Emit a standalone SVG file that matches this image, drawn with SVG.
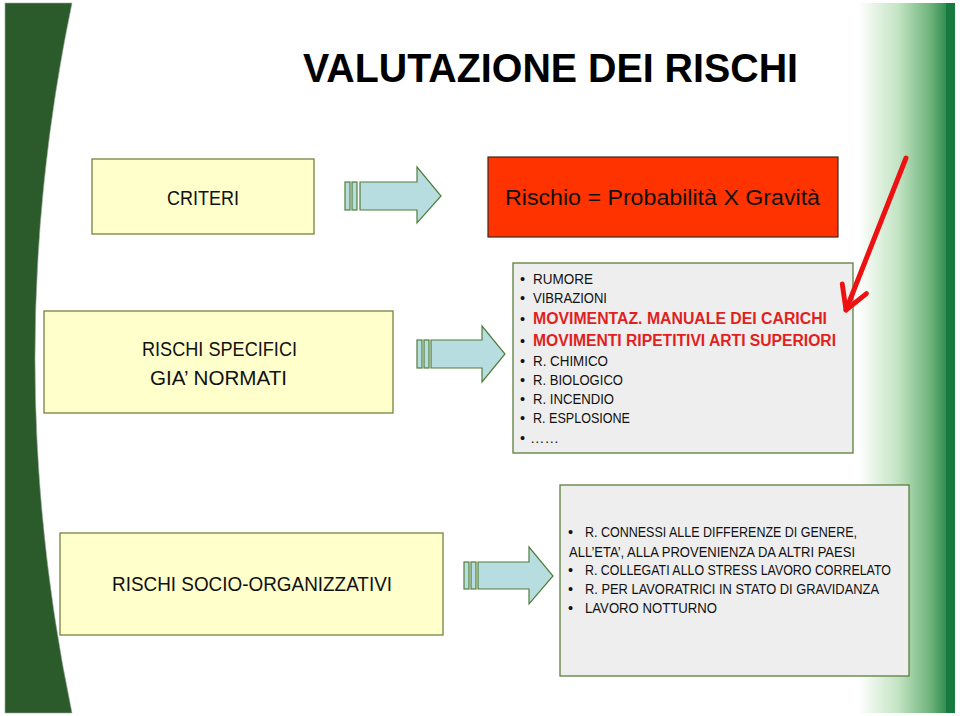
<svg xmlns="http://www.w3.org/2000/svg" width="960" height="716" viewBox="0 0 960 716">
<style>
text{font-family:"Liberation Sans",Arial,sans-serif;fill:#111;}
.yb{fill:#ffffcc;stroke:#76833f;stroke-width:1.3;}
.gb{fill:#eeeeee;stroke:#5b7f3b;stroke-width:1.3;}
.arr{fill:#b8dde0;stroke:#4f7f3a;stroke-width:1.2;}
.lbl{font-size:19.5px;}
.li{font-size:14.5px;}
.red{font-size:16px;font-weight:bold;fill:#e11f1f;}
</style>
<defs>
<linearGradient id="rg" gradientUnits="userSpaceOnUse" x1="858" y1="0" x2="948" y2="0">
<stop offset="0" stop-color="#ffffff"/>
<stop offset="0.45" stop-color="#c3e3c3"/>
<stop offset="0.8" stop-color="#6fb47c"/>
<stop offset="1" stop-color="#2a8a4e"/>
</linearGradient>
<marker id="ah" viewBox="0 0 10 10" refX="8" refY="5" markerWidth="6.5" markerHeight="6.5" orient="auto" markerUnits="strokeWidth">
<path d="M1,1 L8,5 L1,9" fill="none" stroke="#ee1111" stroke-width="1.5" stroke-linecap="round" stroke-linejoin="round"/>
</marker>
</defs>
<rect width="960" height="716" fill="#ffffff"/>
<path d="M5,3 L72,3 Q-2,358 72,713 L5,713 Z" fill="#2b5a2b" stroke="#9aa89a" stroke-width="0.6"/>
<rect x="858" y="3" width="90" height="710" fill="url(#rg)"/>
<rect x="946" y="3" width="9" height="710" fill="#187a3e"/>

<text x="303" y="82" font-size="41" font-weight="bold" textLength="495" lengthAdjust="spacingAndGlyphs" style="fill:#000">VALUTAZIONE DEI RISCHI</text>

<g id="criteri">
<rect class="yb" x="92" y="159" width="222" height="75"/>
<text class="lbl" x="167" y="205" textLength="72" lengthAdjust="spacingAndGlyphs">CRITERI</text>
</g>
<g id="formula">
<rect x="488" y="157" width="350" height="80" fill="#ff3300" stroke="#3a2a1a" stroke-width="1.2"/>
<text x="505" y="205" font-size="22" textLength="315" lengthAdjust="spacingAndGlyphs">Rischio = Probabilità X Gravità</text>
</g>
<g id="specifici">
<rect class="yb" x="44" y="311" width="349" height="102"/>
<text class="lbl" x="142" y="356" textLength="155" lengthAdjust="spacingAndGlyphs">RISCHI SPECIFICI</text>
<text class="lbl" x="150" y="385" textLength="137" lengthAdjust="spacingAndGlyphs">GIA’ NORMATI</text>
</g>
<g id="lista1">
<rect class="gb" x="513" y="263" width="340" height="190"/>
<text class="li" x="520" y="284">•</text><text class="li" x="533" y="284" textLength="60" lengthAdjust="spacingAndGlyphs">RUMORE</text>
<text class="li" x="520" y="303">•</text><text class="li" x="533" y="303" textLength="74" lengthAdjust="spacingAndGlyphs">VIBRAZIONI</text>
<text class="li" x="520" y="324">•</text><text class="red" x="533" y="324" textLength="294" lengthAdjust="spacingAndGlyphs">MOVIMENTAZ. MANUALE DEI CARICHI</text>
<text class="li" x="520" y="346">•</text><text class="red" x="533" y="346" textLength="303" lengthAdjust="spacingAndGlyphs">MOVIMENTI RIPETITIVI ARTI SUPERIORI</text>
<text class="li" x="520" y="366">•</text><text class="li" x="533" y="366" textLength="75" lengthAdjust="spacingAndGlyphs">R. CHIMICO</text>
<text class="li" x="520" y="385">•</text><text class="li" x="533" y="385" textLength="90" lengthAdjust="spacingAndGlyphs">R. BIOLOGICO</text>
<text class="li" x="520" y="404">•</text><text class="li" x="533" y="404" textLength="81" lengthAdjust="spacingAndGlyphs">R. INCENDIO</text>
<text class="li" x="520" y="423">•</text><text class="li" x="533" y="423" textLength="97" lengthAdjust="spacingAndGlyphs">R. ESPLOSIONE</text>
<text class="li" x="520" y="443">•</text><text class="li" x="530" y="443">……</text>
</g>
<g id="socio">
<rect class="yb" x="60" y="533" width="383" height="102"/>
<text class="lbl" x="112" y="591" textLength="280" lengthAdjust="spacingAndGlyphs">RISCHI SOCIO-ORGANIZZATIVI</text>
</g>
<g id="lista2">
<rect class="gb" x="560" y="485" width="349" height="191"/>
<text class="li" x="568" y="537">•</text><text class="li" x="585" y="537" textLength="272" lengthAdjust="spacingAndGlyphs">R. CONNESSI ALLE DIFFERENZE DI GENERE,</text>
<text class="li" x="569" y="557" textLength="286" lengthAdjust="spacingAndGlyphs">ALL’ETA’, ALLA PROVENIENZA DA ALTRI PAESI</text>
<text class="li" x="568" y="575">•</text><text class="li" x="585" y="575" textLength="306" lengthAdjust="spacingAndGlyphs">R. COLLEGATI ALLO STRESS LAVORO CORRELATO</text>
<text class="li" x="568" y="594">•</text><text class="li" x="585" y="594" textLength="294" lengthAdjust="spacingAndGlyphs">R. PER LAVORATRICI IN STATO DI GRAVIDANZA</text>
<text class="li" x="568" y="613">•</text><text class="li" x="585" y="613" textLength="132" lengthAdjust="spacingAndGlyphs">LAVORO NOTTURNO</text>
</g>

<g id="connectors">
<g id="arrow1">
<rect class="arr" x="345" y="182" width="5" height="28"/>
<rect class="arr" x="352" y="182" width="5" height="28"/>
<path class="arr" d="M360,182 H417 V167 L441,196 L417,223 V210 H360 Z"/>
</g>
<g id="arrow2">
<rect class="arr" x="417" y="340" width="5" height="28"/>
<rect class="arr" x="424" y="340" width="5" height="28"/>
<path class="arr" d="M431,340 H482 V326 L505,354 L482,382 V368 H431 Z"/>
</g>
<g id="arrow3">
<rect class="arr" x="464" y="562" width="5" height="27"/>
<rect class="arr" x="471" y="562" width="5" height="27"/>
<path class="arr" d="M478,562 H529 V547 L553,576 L529,604 V589 H478 Z"/>
</g>
<line id="redarrow" x1="906" y1="158" x2="846" y2="310" stroke="#ee1111" stroke-width="5" stroke-linecap="round" marker-end="url(#ah)"/>
</g>
</svg>
